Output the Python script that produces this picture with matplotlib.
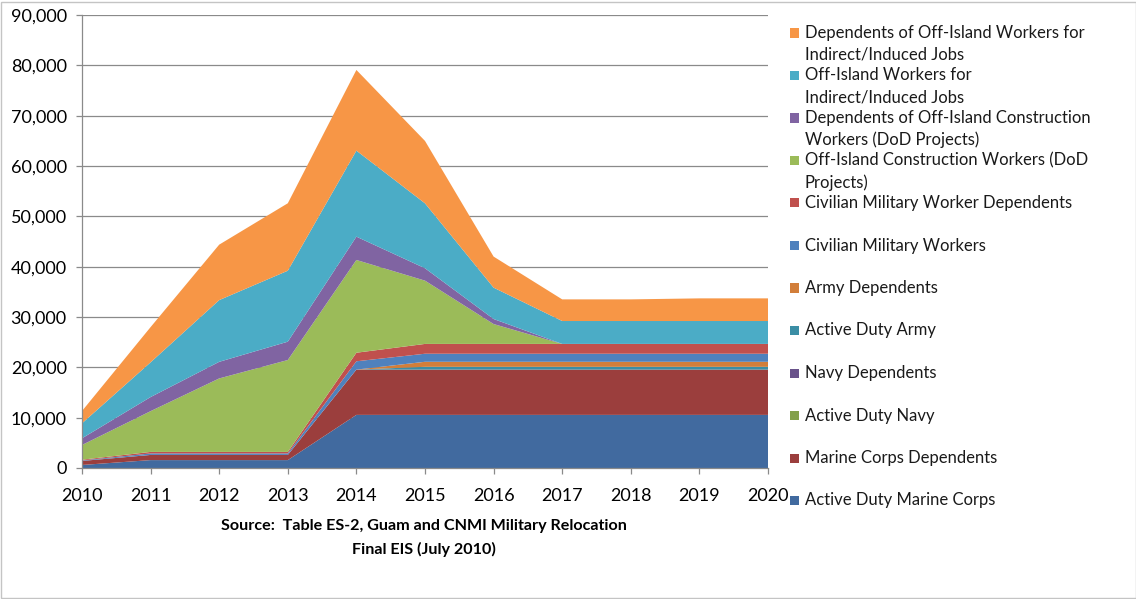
import matplotlib
matplotlib.use('Agg')
import matplotlib.pyplot as plt
import matplotlib.patches as mpatches
import matplotlib.ticker as mticker
import numpy as np

# ── Data (stacked bottom -> top) ──
years = [2010, 2011, 2012, 2013, 2014, 2015, 2016, 2017, 2018, 2019, 2020]

active_marine   = [600, 1570, 1570, 1570, 10552, 10552, 10552, 10552, 10552, 10552, 10552]
marine_deps     = [800, 1025, 1025, 1025, 9000, 9000, 9000, 9000, 9000, 9000, 9000]
active_navy     = [0, 0, 0, 0, 0, 0, 0, 0, 0, 0, 0]
navy_deps       = [0, 0, 0, 0, 0, 0, 0, 0, 0, 0, 0]
active_army     = [0, 0, 0, 0, 0, 550, 550, 550, 550, 550, 550]
army_deps       = [0, 0, 0, 0, 0, 1000, 1000, 1000, 1000, 1000, 1000]
civ_workers     = [100, 300, 300, 300, 1650, 1600, 1600, 1600, 1600, 1600, 1600]
civ_deps        = [150, 300, 300, 300, 1700, 1950, 1950, 1950, 1950, 1950, 1950]
constr_workers  = [2920, 8100, 14600, 18260, 18430, 12570, 3950, 0, 0, 0, 0]
constr_deps     = [1330, 2800, 3300, 3640, 4630, 2460, 1000, 0, 0, 0, 0]
indirect_workers = [2980, 6900, 12260, 14100, 17090, 12900, 6230, 4550, 4550, 4550, 4550]
indirect_deps   = [2440, 7000, 11020, 13400, 16030, 12400, 6170, 4300, 4300, 4500, 4500]

series = [active_marine, marine_deps, active_navy, navy_deps, active_army, army_deps,
          civ_workers, civ_deps, constr_workers, constr_deps, indirect_workers, indirect_deps]

labels = [
    'Active Duty Marine Corps',
    'Marine Corps Dependents',
    'Active Duty Navy',
    'Navy Dependents',
    'Active Duty Army',
    'Army Dependents',
    'Civilian Military Workers',
    'Civilian Military Worker Dependents',
    'Off-Island Construction Workers (DoD\nProjects)',
    'Dependents of Off-Island Construction\nWorkers (DoD Projects)',
    'Off-Island Workers for\nIndirect/Induced Jobs',
    'Dependents of Off-Island Workers for\nIndirect/Induced Jobs',
]

colors = ['#416A9F', '#9B3E3D', '#83A04B', '#69528A', '#3B8EA5', '#D27E3A',
          '#4F81BD', '#C0504D', '#9BBB59', '#8064A2', '#4BACC6', '#F79646']

source = 'Source:  Table ES-2, Guam and CNMI Military Relocation\nFinal EIS (July 2010)'

plt.rcParams['font.family'] = ['Lato', 'DejaVu Sans']

W, H = 1136, 599
fig = plt.figure(figsize=(W / 100, H / 100), dpi=100)
ax = fig.add_axes([82 / W, 1 - 468 / H, (768 - 82) / W, (468 - 15) / H])

ax.stackplot(years, *series, colors=colors, linewidth=0, zorder=2)

ax.set_xlim(2010, 2020)
ax.set_ylim(0, 90000)
ax.set_xticks(years)
ax.yaxis.set_major_locator(mticker.MultipleLocator(10000))
ax.yaxis.set_major_formatter(mticker.FuncFormatter(lambda v, p: f'{v:,.0f}'))

ax.grid(axis='y', color='#8a8a8a', lw=0.9, zorder=1)
ax.set_axisbelow(True)
for s in ['top', 'right']:
    ax.spines[s].set_visible(False)
for s in ['left', 'bottom']:
    ax.spines[s].set_color('#8a8a8a')
    ax.spines[s].set_linewidth(0.9)
ax.tick_params(axis='y', direction='out', length=4, width=0.9, color='#8a8a8a',
               pad=7, labelsize=13, labelcolor='black')
ax.tick_params(axis='x', direction='out', length=4.5, width=0.9, color='#8a8a8a',
               pad=10, labelsize=13, labelcolor='black')

# ── Manual legend on the right (top entry = top layer) ──
y0, step, line_h = 33, 42.5, 22
for i, (lab, col) in enumerate(zip(labels[::-1], colors[::-1])):
    yc = y0 + i * step
    fig.add_artist(mpatches.Rectangle((790 / W, 1 - (yc + 4.5) / H), 9 / W, 9 / H,
                                      transform=fig.transFigure, color=col, lw=0))
    for k, line in enumerate(lab.split('\n')):
        fig.text(805 / W, 1 - (yc + k * line_h) / H, line, fontsize=12,
                 ha='left', va='center', color='#1a1a1a')

# ── Source caption ──
fig.text(424 / W, 1 - 526 / H, source.split('\n')[0], fontsize=11.6, fontweight='bold',
         ha='center', va='center')
fig.text(424 / W, 1 - 549 / H, source.split('\n')[1], fontsize=11.6, fontweight='bold',
         ha='center', va='center')

# chart frame
fig.add_artist(mpatches.Rectangle((0.5 / W, 1.5 / H), (W - 1) / W, (H - 3) / H,
                                  transform=fig.transFigure, fill=False,
                                  edgecolor='#c4c4c4', lw=1))

fig.savefig('out.png', dpi=100)
